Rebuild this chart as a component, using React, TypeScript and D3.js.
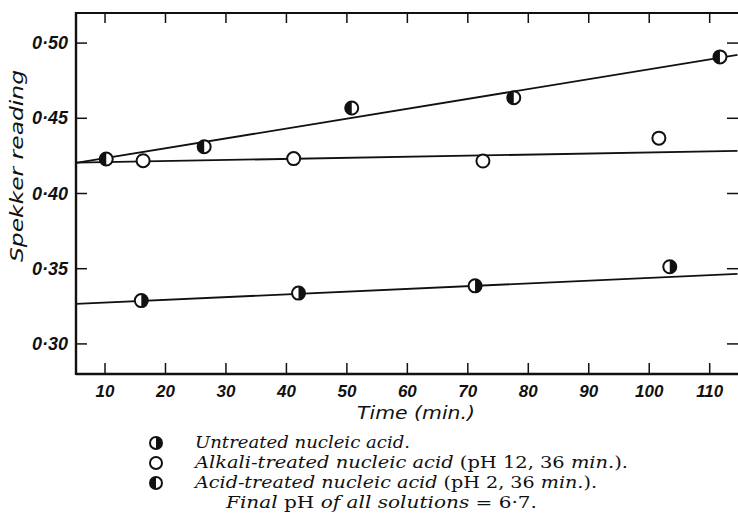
import React from "react";
import * as d3 from "d3";

// Untreated nucleic acid (right half filled)
const untreatedT = [16, 42, 71.2, 103.4];
const untreatedV = [0.3288, 0.3338, 0.3386, 0.3513];
// Alkali-treated (open circles)
const alkaliT = [16.3, 41.2, 72.5, 101.6];
const alkaliV = [0.4218, 0.4232, 0.4216, 0.4368];
// Acid-treated (left half filled)
const acidT = [10.2, 26.4, 50.8, 77.6, 111.7];
const acidV = [0.4229, 0.4311, 0.4568, 0.4637, 0.4908];

// Fitted straight lines (endpoints)
const fitT = [5.2, 114.6];
const untreatedFitV = [0.3266, 0.3465];
const alkaliFitV = [0.4205, 0.4283];
const acidFitV = [0.4203, 0.4922];

const xTicks = [10, 20, 30, 40, 50, 60, 70, 80, 90, 100, 110];
const yTicks = [0.3, 0.35, 0.4, 0.45, 0.5];

const W = 738;
const H = 517;
const left = 76, right = 738, top = 13, bottom = 374;

const x = d3.scaleLinear().domain([5.2, 114.6]).range([left, right - 0.5]);
const y = d3.scaleLinear().domain([0.28, 0.52]).range([bottom, top]);

const sans = "'DejaVu Sans', 'Liberation Sans', sans-serif";
const tickSans = "'Liberation Sans', Arial, sans-serif";
const serif = "'DejaVu Serif', 'Liberation Serif', serif";

const R = 6.5;

function Marker({ cx, cy, kind, r = R }: { cx: number; cy: number; kind: string; r?: number }) {
  const rightHalf = `M0,${-r} A${r},${r} 0 0 1 0,${r} Z`;
  const leftHalf = `M0,${-r} A${r},${r} 0 0 0 0,${r} Z`;
  return (
    <g transform={`translate(${cx},${cy})`}>
      <circle r={r} fill="#fff" stroke="#111" strokeWidth={2} />
      {kind === "untreated" && <path d={rightHalf} fill="#111" />}
      {kind === "acid" && <path d={leftHalf} fill="#111" />}
    </g>
  );
}

export default function App() {
  const line = d3
    .line<[number, number]>()
    .x((d) => x(d[0]))
    .y((d) => y(d[1]));
  const fits = [untreatedFitV, alkaliFitV, acidFitV].map((vs) =>
    line(fitT.map((t, i) => [t, vs[i]] as [number, number]))
  );
  const fmt = (v: number) => d3.format(".2f")(v).replace(".", "·");

  const legendX = 156;
  const textX = 195;
  const rows = [443, 463, 483];

  return (
    <svg
      width={W}
      height={H}
      style={{ position: "absolute", left: 0, top: 0, background: "#fff" }}
    >
      <rect width={W} height={H} fill="#fff" />
      {/* frame */}
      <line x1={left} x2={right} y1={top} y2={top} stroke="#111" strokeWidth={2.2} />
      <line x1={left} x2={right} y1={bottom} y2={bottom} stroke="#111" strokeWidth={2.6} />
      <line x1={left} x2={left} y1={top - 1} y2={bottom + 1} stroke="#111" strokeWidth={2.4} />
      {/* x ticks */}
      {xTicks.map((t) => (
        <g key={"x" + t}>
          <line x1={x(t)} x2={x(t)} y1={bottom} y2={bottom - 11} stroke="#111" strokeWidth={1.5} />
          <line x1={x(t)} x2={x(t)} y1={top} y2={top + 10} stroke="#111" strokeWidth={1.5} />
          <text
            x={x(t)}
            y={397}
            textAnchor="middle"
            fontFamily={tickSans}
            fontStyle="italic"
            fontWeight={600}
            fontSize={17}
            fill="#111"
          >
            {t}
          </text>
        </g>
      ))}
      {/* y ticks */}
      {yTicks.map((v) => (
        <g key={"y" + v}>
          <line x1={left} x2={left + 11} y1={y(v)} y2={y(v)} stroke="#111" strokeWidth={1.5} />
          <line x1={right - 11} x2={right} y1={y(v)} y2={y(v)} stroke="#111" strokeWidth={1.5} />
          <text
            x={68}
            y={y(v) + 6}
            textAnchor="end"
            fontFamily={tickSans}
            fontStyle="italic"
            fontWeight={600}
            fontSize={18}
            fill="#111"
          >
            {fmt(v)}
          </text>
        </g>
      ))}
      {/* fit lines */}
      {fits.map((d, i) => (
        <path key={"f" + i} d={d || ""} fill="none" stroke="#111" strokeWidth={1.8} />
      ))}
      {/* markers */}
      {untreatedT.map((t, i) => (
        <Marker key={"u" + i} cx={x(t)} cy={y(untreatedV[i])} kind="untreated" />
      ))}
      {alkaliT.map((t, i) => (
        <Marker key={"a" + i} cx={x(t)} cy={y(alkaliV[i])} kind="alkali" />
      ))}
      {acidT.map((t, i) => (
        <Marker key={"c" + i} cx={x(t)} cy={y(acidV[i])} kind="acid" />
      ))}
      {/* axis titles */}
      <text
        transform={`translate(23,166) rotate(-90)`}
        x={-96}
        textLength={192}
        lengthAdjust="spacingAndGlyphs"
        fontFamily={sans}
        fontStyle="italic"
        fontSize={18}
        fill="#111"
      >
        Spekker reading
      </text>
      <text
        x={357}
        y={419}
        textLength={118}
        lengthAdjust="spacingAndGlyphs"
        fontFamily={sans}
        fontStyle="italic"
        fontSize={18}
        fill="#111"
      >
        Time (min.)
      </text>
      {/* legend */}
      <Marker cx={legendX} cy={rows[0]} kind="untreated" r={6} />
      <Marker cx={legendX} cy={rows[1]} kind="alkali" r={6} />
      <Marker cx={legendX} cy={rows[2]} kind="acid" r={6} />
      <g fontFamily={serif} fontSize={16} fill="#111">
        <text x={textX} y={rows[0] + 5} textLength={215} lengthAdjust="spacingAndGlyphs">
          <tspan fontStyle="italic">Untreated nucleic acid.</tspan>
        </text>
        <text x={textX} y={rows[1] + 5} textLength={433} lengthAdjust="spacingAndGlyphs">
          <tspan fontStyle="italic">Alkali-treated nucleic acid</tspan>
          <tspan> (pH 12, 36 </tspan>
          <tspan fontStyle="italic">min.</tspan>
          <tspan>).</tspan>
        </text>
        <text x={textX} y={rows[2] + 5} textLength={402} lengthAdjust="spacingAndGlyphs">
          <tspan fontStyle="italic">Acid-treated nucleic acid</tspan>
          <tspan> (pH 2, 36 </tspan>
          <tspan fontStyle="italic">min.</tspan>
          <tspan>).</tspan>
        </text>
        <text x={226} y={508} textLength={311} lengthAdjust="spacingAndGlyphs">
          <tspan fontStyle="italic">Final</tspan>
          <tspan> pH </tspan>
          <tspan fontStyle="italic">of all solutions</tspan>
          <tspan> = 6·7.</tspan>
        </text>
      </g>
    </svg>
  );
}
